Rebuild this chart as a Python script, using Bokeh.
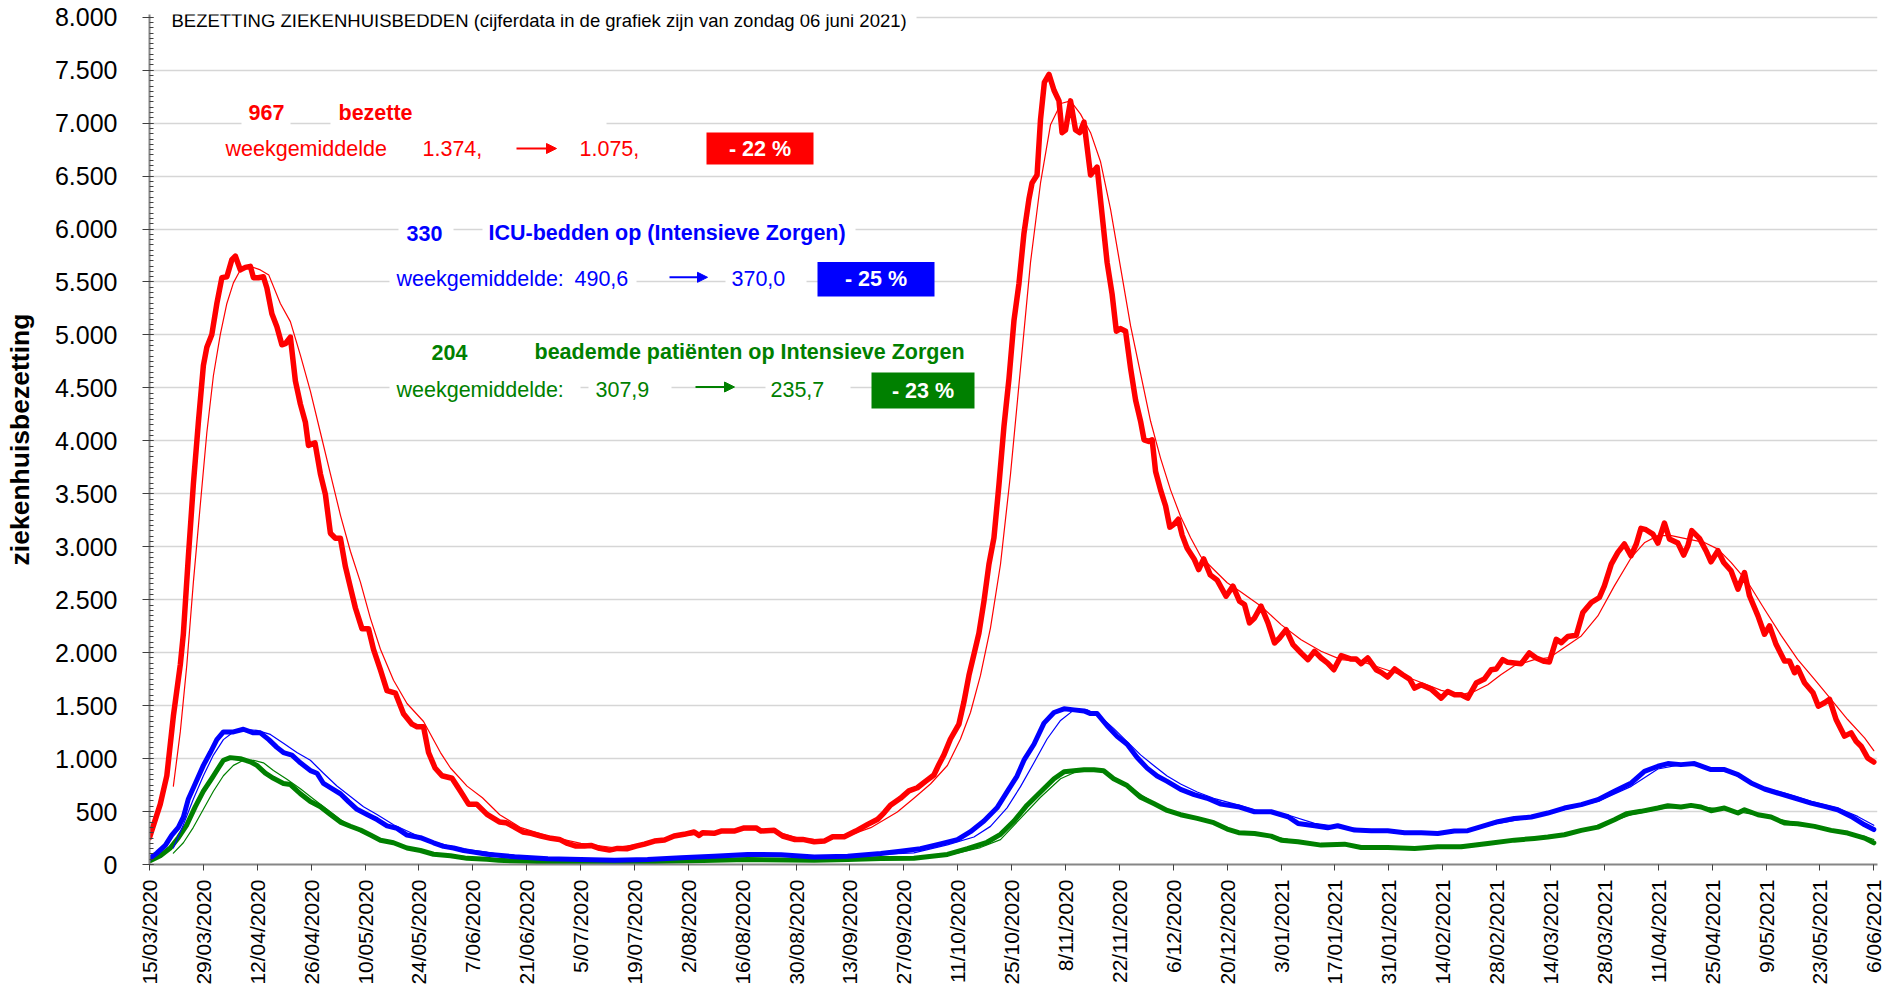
import math
from bokeh.plotting import figure
from bokeh.models import Range1d, FixedTicker, Label, BoxAnnotation, Arrow, NormalHead
from bokeh.embed import file_html
from bokeh.resources import INLINE

# ---------------- data (day 0 = 15/03/2020) ----------------
x_tick_days = list(range(0, 449, 14))
x_tick_labels = ["15/03/2020", "29/03/2020", "12/04/2020", "26/04/2020", "10/05/2020",
                 "24/05/2020", "7/06/2020", "21/06/2020", "5/07/2020", "19/07/2020",
                 "2/08/2020", "16/08/2020", "30/08/2020", "13/09/2020", "27/09/2020",
                 "11/10/2020", "25/10/2020", "8/11/2020", "22/11/2020", "6/12/2020",
                 "20/12/2020", "3/01/2021", "17/01/2021", "31/01/2021", "14/02/2021",
                 "28/02/2021", "14/03/2021", "28/03/2021", "11/04/2021", "25/04/2021",
                 "9/05/2021", "23/05/2021", "6/06/2021"]
y_tick_values = list(range(0, 8001, 500))
y_tick_labels = ["0", "500", "1.000", "1.500", "2.000", "2.500", "3.000", "3.500", "4.000",
                 "4.500", "5.000", "5.500", "6.000", "6.500", "7.000", "7.500", "8.000"]

# bezette ziekenhuisbedden (dagwaarde)
bezet = [(0, 253), (2.8, 570), (4.5, 838), (6.2, 1400), (8.0, 1886), (8.8, 2178), (10.1, 2909),
         (11.4, 3591), (12.7, 4176), (14.0, 4712), (14.9, 4883), (16.2, 5005), (17.5, 5297),
         (18.8, 5541), (20.1, 5550), (21.4, 5711), (22.3, 5745), (23.6, 5614), (24.9, 5638),
         (26.2, 5648), (27.0, 5541), (28.3, 5540), (29.6, 5550), (30.5, 5443), (31.8, 5200),
         (33.1, 5078), (34.4, 4907), (35.3, 4917), (36.6, 4980), (37.9, 4566), (39.2, 4347),
         (40.5, 4176), (41.3, 3957), (43.0, 3981), (44.4, 3689), (45.7, 3494), (47.0, 3128),
         (48.3, 3080), (49.6, 3080), (50.9, 2812), (52.2, 2617), (53.5, 2422), (55.2, 2227),
         (56.9, 2227), (58.2, 2032), (60.0, 1837), (61.7, 1642), (63.9, 1618), (66.0, 1423),
         (68.2, 1325), (69.5, 1301), (71.2, 1301), (72.5, 1057), (74.2, 911), (76.0, 838),
         (78.6, 814), (80.8, 692), (82.9, 570), (85.0, 570), (87.7, 473), (90.9, 402),
         (92.6, 395), (94.8, 354), (97.0, 307), (99.1, 294), (101.7, 269), (104.3, 247),
         (106.5, 237), (108.6, 199), (110.8, 174), (113.0, 174), (114.7, 180), (116.9, 152),
         (119.5, 136), (121.6, 152), (124.2, 149), (126.4, 174), (128.6, 193), (131.2, 221),
         (133.8, 231), (136.3, 269), (138.9, 285), (141.5, 307), (142.8, 275), (143.7, 300),
         (146.7, 294), (148.5, 316), (151.9, 316), (154.5, 345), (157.6, 345), (158.9, 316),
         (162.3, 323), (164.5, 269), (167.5, 237), (169.7, 237), (172.7, 215), (175.3, 221),
         (177.5, 262), (180.5, 262), (181.8, 285), (183.5, 316), (186.6, 379), (189.2, 427),
         (190.9, 490), (192.5, 560), (195.1, 625), (197.3, 695), (199.5, 725), (201.6, 785),
         (203.8, 845), (205.1, 945), (206.4, 1035), (208.1, 1185), (210.3, 1325), (211.6, 1535),
         (212.9, 1785), (214.2, 1985), (215.5, 2185), (216.8, 2485), (218.1, 2835), (219.4, 3085),
         (220.7, 3585), (222.0, 4135), (223.3, 4585), (224.6, 5135), (225.9, 5485), (227.2, 5960),
         (228.5, 6285), (229.3, 6435), (230.6, 6510), (231.5, 7035), (232.5, 7385), (233.7, 7460),
         (235.0, 7310), (236.3, 7210), (237.1, 6910), (238.0, 6935), (239.3, 7210), (240.6, 6935),
         (241.7, 6910), (242.8, 7010), (244.5, 6510), (246.2, 6585), (247.5, 6135), (248.8, 5685),
         (250.1, 5385), (251.2, 5035), (252.3, 5060), (253.6, 5035), (254.9, 4685), (256.2, 4385),
         (257.5, 4185), (258.4, 4010), (259.6, 3995), (260.5, 4010), (261.4, 3710), (262.7, 3535),
         (264.0, 3385), (265.1, 3185), (266.1, 3210), (267.3, 3260), (268.3, 3110), (269.6, 2985),
         (271.4, 2885), (272.6, 2785), (273.9, 2885), (275.6, 2735), (277.4, 2685), (279.7, 2533),
         (281.5, 2628), (283.2, 2486), (284.5, 2455), (285.8, 2281), (287.1, 2328), (288.8, 2439),
         (290.6, 2281), (292.3, 2092), (293.6, 2139), (295.3, 2218), (297.1, 2076), (299.2, 1997),
         (301.0, 1934), (302.7, 2013), (304.4, 1950), (306.1, 1902), (307.7, 1839), (309.6, 1972),
         (312.2, 1940), (313.5, 1940), (314.8, 1896), (316.5, 1950), (318.7, 1839), (320.0, 1814),
         (321.7, 1770), (323.5, 1846), (325.6, 1792), (327.4, 1751), (328.7, 1666), (330.4, 1697),
         (333.0, 1656), (335.6, 1571), (337.3, 1634), (339.1, 1603), (340.8, 1603), (342.5, 1571),
         (344.7, 1713), (346.8, 1751), (348.6, 1839), (349.9, 1846), (351.6, 1934), (352.9, 1909),
         (356.4, 1896), (358.5, 1997), (360.3, 1950), (362.4, 1918), (363.7, 1912), (365.5, 2126),
         (366.8, 2095), (368.5, 2152), (370.7, 2164), (372.4, 2379), (374.6, 2474), (376.7, 2521),
         (378.0, 2631), (379.8, 2836), (381.5, 2947), (383.2, 3026), (384.9, 2915), (386.3, 3026),
         (387.5, 3174), (388.8, 3161), (390.6, 3120), (391.9, 3035), (393.6, 3224), (394.9, 3073),
         (397.1, 3035), (398.6, 2921), (399.7, 3010), (400.7, 3152), (402.7, 3079), (404.4, 2963),
         (405.7, 2858), (407.5, 2963), (409.0, 2852), (410.9, 2773), (412.7, 2600), (414.4, 2757),
         (415.7, 2537), (417.9, 2347), (419.6, 2174), (420.9, 2253), (422.6, 2079), (424.8, 1921),
         (426.1, 1921), (427.4, 1811), (428.2, 1858), (430.0, 1716), (432.2, 1622), (433.6, 1495),
         (435.2, 1527), (436.5, 1559), (438.2, 1369), (440.4, 1212), (442.1, 1243), (443.4, 1164),
         (444.7, 1117), (446.4, 1006), (448.0, 967)]

# weekgemiddelde bezette bedden
bezet_avg = [(6.2, 740), (8.0, 1252), (9.7, 1886), (11.4, 2666), (13.2, 3397), (14.9, 4079),
             (16.6, 4615), (18.4, 5005), (20.1, 5297), (21.8, 5492), (23.6, 5614), (26.2, 5648),
             (28.8, 5614), (31.0, 5565), (34.0, 5297), (36.6, 5126), (39.2, 4810), (41.8, 4469),
             (44.4, 4079), (47.0, 3689), (49.6, 3299), (52.2, 2958), (54.8, 2666), (57.4, 2324),
             (60.0, 2032), (63.4, 1740), (66.9, 1520), (71.2, 1350), (75.6, 1057), (78.2, 911),
             (82.5, 740), (86.5, 630), (91.0, 470), (96.5, 348), (103.5, 269), (112.1, 199),
             (120.8, 158), (129.4, 205), (138.1, 269), (146.7, 300), (155.4, 332), (162.3, 316),
             (168.4, 253), (174.5, 228), (181.4, 269), (187.4, 348), (194.3, 495), (198.6, 625),
             (202.9, 760), (207.3, 935), (210.7, 1185), (213.3, 1435), (215.9, 1785), (218.5, 2235),
             (221.1, 2835), (223.7, 3685), (226.3, 4685), (228.9, 5685), (231.5, 6435), (234.1, 6985),
             (236.8, 7185), (239.3, 7210), (241.9, 7085), (244.5, 6910), (247.1, 6635), (249.7, 6185),
             (252.3, 5635), (254.9, 5085), (257.5, 4635), (260.1, 4185), (262.7, 3835), (265.3, 3535),
             (267.9, 3285), (270.5, 3085), (273.1, 2910), (276.5, 2785), (280.0, 2660), (283.3, 2580),
             (288.8, 2439), (294.0, 2265), (299.2, 2123), (304.4, 2013), (309.6, 1934), (314.8, 1918),
             (320.0, 1855), (325.2, 1792), (330.4, 1719), (335.6, 1644), (340.8, 1603), (344.2, 1634),
             (347.7, 1697), (351.1, 1792), (354.6, 1877), (359.8, 1934), (363.7, 1953), (367.6, 2048),
             (372.0, 2158), (376.3, 2347), (380.6, 2631), (385.0, 2899), (388.5, 3041), (391.9, 3105),
             (395.4, 3105), (399.7, 3073), (404.0, 3041), (407.5, 2978), (410.9, 2852), (415.3, 2663),
             (419.6, 2410), (424.0, 2158), (428.2, 1937), (432.6, 1748), (436.9, 1559), (441.2, 1369),
             (445.6, 1196), (448.0, 1075)]

# ICU-bedden op Intensieve Zorgen (dagwaarde)
icu = [(0, 58), (1.9, 107), (4.1, 180), (5.8, 278), (7.5, 351), (8.8, 448), (10.1, 619),
       (11.9, 765), (14.0, 936), (15.8, 1057), (17.5, 1179), (19.2, 1252), (21.8, 1252),
       (24.4, 1277), (27.0, 1243), (28.8, 1243), (31.0, 1179), (33.1, 1106), (34.8, 1057),
       (37.0, 1033), (39.2, 960), (41.8, 887), (43.5, 862), (45.2, 765), (47.4, 716), (49.6, 668),
       (51.7, 594), (53.9, 521), (56.5, 473), (59.1, 424), (61.7, 365), (64.3, 341), (66.9, 278),
       (70.4, 253), (73.8, 205), (76.4, 171), (79.0, 156), (81.6, 132), (84.2, 117), (87.7, 97),
       (94.8, 73), (103.5, 54), (112.1, 47), (120.8, 41), (129.4, 47), (138.1, 63), (146.7, 79),
       (155.4, 95), (164.1, 92), (172.7, 70), (181.4, 79), (190.0, 104), (195.1, 125), (200.3, 150),
       (205.5, 195), (209.9, 235), (213.3, 310), (216.8, 410), (220.2, 535), (222.8, 685),
       (225.4, 835), (227.2, 985), (229.8, 1135), (232.4, 1335), (235.0, 1435), (237.6, 1470),
       (240.2, 1460), (242.8, 1450), (244.5, 1425), (246.2, 1425), (248.8, 1310), (251.4, 1210),
       (254.0, 1135), (256.6, 1010), (259.2, 910), (261.8, 835), (264.4, 785), (267.9, 710),
       (271.4, 660), (274.8, 625), (278.4, 570), (282.8, 546), (287.1, 498), (291.4, 498),
       (295.8, 451), (298.4, 388), (302.7, 366), (306.1, 347), (308.7, 366), (313.1, 325),
       (317.4, 319), (321.7, 319), (326.1, 300), (330.4, 300), (334.7, 293), (339.0, 316),
       (342.5, 319), (346.0, 357), (350.3, 404), (354.6, 435), (359.0, 448), (363.3, 486),
       (367.6, 533), (372.0, 565), (376.3, 612), (380.6, 691), (385.0, 770), (388.4, 880),
       (391.9, 928), (394.5, 953), (397.9, 943), (401.4, 953), (405.7, 896), (409.2, 896),
       (412.7, 849), (416.1, 770), (419.6, 713), (423.0, 675), (427.4, 628), (431.7, 580),
       (435.2, 549), (438.6, 517), (442.1, 454), (445.6, 375), (448.0, 330)]

icu_avg = [(6.2, 156), (8.8, 375), (11.4, 619), (14.0, 838), (16.6, 1033), (19.2, 1179),
           (21.8, 1252), (24.4, 1277), (27.9, 1267), (31.4, 1228), (34.8, 1145), (38.3, 1057),
           (41.8, 984), (45.2, 862), (48.7, 741), (52.2, 643), (55.6, 546), (59.1, 473),
           (63.4, 375), (67.8, 302), (72.1, 229), (77.3, 180), (82.5, 141), (87.7, 117),
           (90.7, 97), (103.5, 60), (120.8, 45), (138.1, 60), (155.4, 90), (172.7, 75),
           (190.0, 95), (198.6, 110), (207.3, 185), (214.2, 260), (218.5, 360), (222.8, 535),
           (226.3, 735), (229.8, 960), (233.2, 1185), (236.7, 1360), (240.2, 1460), (243.6, 1460),
           (247.1, 1395), (250.5, 1285), (254.0, 1160), (257.5, 1035), (260.9, 935), (264.4, 835),
           (267.9, 760), (272.2, 685), (276.5, 625), (283.0, 560), (287.1, 514), (295.8, 467),
           (302.7, 388), (308.7, 357), (317.4, 325), (326.1, 306), (334.7, 300), (342.5, 319),
           (350.3, 388), (359.0, 445), (367.6, 517), (376.3, 596), (385.0, 738), (391.9, 902),
           (397.9, 943), (404.0, 928), (410.9, 864), (417.9, 738), (424.8, 675), (431.7, 596),
           (438.6, 533), (443.8, 454), (448.0, 370)]

# beademde patienten op Intensieve Zorgen (dagwaarde)
beadem = [(0, 34), (2.8, 83), (5.4, 156), (7.5, 253), (9.7, 375), (11.9, 546), (14.0, 692),
          (16.2, 814), (17.9, 911), (19.2, 984), (21.0, 1009), (23.6, 999), (26.2, 970),
          (27.9, 936), (30.1, 862), (32.2, 814), (34.8, 765), (36.6, 755), (39.2, 668),
          (41.8, 594), (44.4, 546), (47.0, 473), (49.6, 400), (52.2, 361), (54.8, 326),
          (57.4, 278), (60.0, 229), (63.4, 205), (66.9, 156), (70.4, 132), (73.8, 97),
          (78.2, 83), (82.5, 58), (87.7, 49), (90.7, 39), (103.5, 25), (120.8, 22), (138.1, 32),
          (155.4, 47), (172.7, 41), (181.4, 47), (190.0, 57), (198.6, 60), (207.3, 95),
          (212.5, 150), (217.6, 210), (221.1, 285), (224.6, 410), (228.0, 560), (231.5, 685),
          (235.0, 810), (237.6, 875), (240.2, 885), (242.8, 895), (245.4, 895), (247.9, 885),
          (250.5, 810), (254.0, 745), (257.5, 635), (260.9, 575), (264.4, 510), (267.9, 470),
          (272.2, 435), (276.5, 395), (280.0, 335), (283.0, 300), (287.1, 293), (291.4, 268),
          (294.0, 230), (298.4, 215), (304.4, 183), (310.5, 192), (314.8, 161), (321.7, 161),
          (328.7, 151), (334.7, 167), (340.8, 167), (347.7, 199), (354.6, 230), (359.8, 246),
          (363.3, 259), (367.6, 281), (372.0, 322), (376.3, 353), (380.6, 423), (383.7, 480),
          (387.5, 502), (391.9, 533), (394.5, 555), (397.9, 543), (400.5, 558), (403.1, 543),
          (405.7, 508), (409.2, 533), (412.7, 486), (414.4, 517), (417.9, 470), (421.3, 448),
          (424.8, 391), (428.2, 385), (432.6, 360), (436.9, 322), (441.2, 297), (445.6, 249),
          (448.0, 204)]

beadem_avg = [(6.2, 107), (8.8, 205), (11.4, 351), (14.0, 521), (16.6, 692), (19.2, 838),
              (21.8, 936), (24.4, 984), (27.0, 984), (29.6, 960), (32.2, 887), (35.7, 804),
              (39.2, 716), (42.6, 619), (46.1, 521), (49.6, 424), (53.9, 326), (58.2, 253),
              (63.4, 205), (68.6, 146), (73.8, 107), (79.9, 83), (85.9, 58), (90.7, 44),
              (103.5, 28), (120.8, 24), (138.1, 32), (155.4, 45), (172.7, 43), (190.0, 52),
              (198.6, 60), (207.3, 85), (215.9, 160), (221.1, 235), (226.3, 435), (231.5, 635),
              (236.7, 810), (241.9, 895), (247.1, 885), (252.3, 785), (257.5, 660), (262.7, 545),
              (267.9, 475), (273.1, 425), (278.3, 360), (283.0, 310), (287.1, 300), (295.8, 237),
              (304.4, 192), (313.1, 174), (321.7, 161), (330.4, 161), (339.0, 174), (347.7, 205),
              (356.4, 237), (363.7, 262), (367.6, 271), (376.3, 360), (385.0, 470), (393.6, 533),
              (402.3, 549), (410.9, 511), (419.6, 454), (428.2, 391), (436.9, 328), (445.6, 265),
              (448.0, 236)]

title_text = "BEZETTING ZIEKENHUISBEDDEN (cijferdata in de grafiek zijn van zondag 06 juni 2021)"

# ---------------- layout ----------------
RED, BLUE, GREEN = "#ff0000", "#0000ff", "#008000"
FONT = "Liberation Sans"
FIG_W, FIG_H = 1900, 988
LEFT, RIGHT, TOP, BOTTOM = 149, 23, 14, 124
FRAME_W = FIG_W - LEFT - RIGHT
FRAME_H = FIG_H - TOP - BOTTOM
PX_PER_DAY = 3.8489
PX_PER_UNIT = 0.10591
XMAX = FRAME_W / PX_PER_DAY
YMAX = FRAME_H / PX_PER_UNIT
FRAME_BOTTOM = TOP + FRAME_H


def ax(ix):   # page pixel -> day
    return (ix - LEFT) / PX_PER_DAY


def ay(iy):   # page pixel -> value
    return (FRAME_BOTTOM - iy) / PX_PER_UNIT


p = figure(width=FIG_W, height=FIG_H, x_range=Range1d(0, XMAX), y_range=Range1d(0, YMAX),
           output_backend="svg", toolbar_location=None,
           min_border_left=LEFT, min_border_right=RIGHT, min_border_top=TOP,
           min_border_bottom=BOTTOM)
p.outline_line_color = None
p.background_fill_color = "white"
p.border_fill_color = "white"

p.xgrid.visible = False
p.ygrid.ticker = FixedTicker(ticks=y_tick_values)
p.ygrid.grid_line_color = "#d6d6d6"
p.ygrid.grid_line_width = 1.5

# y axis
p.yaxis.ticker = FixedTicker(ticks=y_tick_values, minor_ticks=list(range(0, 8001, 50)))
p.yaxis.major_label_overrides = {v: s for v, s in zip(y_tick_values, y_tick_labels)}
p.yaxis.axis_line_color = "#868686"
p.yaxis.axis_line_width = 2
p.yaxis.major_tick_line_color = "#404040"
p.yaxis.major_tick_in = 4
p.yaxis.major_tick_out = 7
p.yaxis.minor_tick_line_color = "#404040"
p.yaxis.minor_tick_in = 4
p.yaxis.minor_tick_out = 0
p.yaxis.major_label_text_font = FONT
p.yaxis.major_label_text_font_size = "25px"
p.yaxis.major_label_text_color = "black"
p.yaxis.major_label_standoff = 25
p.yaxis.axis_label = "ziekenhuisbezetting"
p.yaxis.axis_label_text_font = FONT
p.yaxis.axis_label_text_font_style = "bold"
p.yaxis.axis_label_text_font_size = "26.5px"
p.yaxis.axis_label_text_color = "black"
p.yaxis.axis_label_standoff = 17

# x axis
p.xaxis.ticker = FixedTicker(ticks=x_tick_days)
p.xaxis.major_label_overrides = {d: s for d, s in zip(x_tick_days, x_tick_labels)}
p.xaxis.major_label_orientation = math.pi / 2
p.xaxis.axis_line_color = "#868686"
p.xaxis.axis_line_width = 2
p.xaxis.major_tick_line_color = "#404040"
p.xaxis.major_tick_in = 0
p.xaxis.major_tick_out = 6
p.xaxis.minor_tick_line_color = None
p.xaxis.major_label_text_font = FONT
p.xaxis.major_label_text_font_size = "21px"
p.xaxis.major_label_text_color = "black"
p.xaxis.major_label_standoff = 9

# white text frames hiding gridlines (as in the original text boxes)
frames = [(151, 916, 17.0), (241, 290, 122.9), (330, 606, 122.9), (398, 453, 228.8),
          (482, 855, 228.8), (389, 636, 281.8), (725, 806, 281.8), (389, 580, 387.7),
          (588, 671, 387.7), (765, 850, 387.7)]
for l, r, yy in frames:
    p.add_layout(BoxAnnotation(left=ax(l), right=ax(r), top=ay(yy - 3), bottom=ay(yy + 3),
                               fill_color="white", fill_alpha=1.0, line_color=None,
                               level="underlay"))


def pts(series):
    return [d for d, _ in series], [v for _, v in series]


# lines
for series, col, w in [(beadem, GREEN, 5.0), (beadem_avg, GREEN, 1.2),
                       (icu, BLUE, 5.0), (icu_avg, BLUE, 1.2),
                       (bezet, RED, 5.5), (bezet_avg, RED, 1.2)]:
    xs, ys = pts(series)
    p.line(xs, ys, line_color=col, line_width=w, line_join="round", line_cap="round")


def label(ix, iy, text, color, size="21.5px", bold=False, align="left"):
    # iy = vertical centre of the text (cap height)
    p.add_layout(Label(x=ax(ix), y=ay(iy), text=text, text_color=color,
                       text_font=FONT, text_font_size=size,
                       text_font_style="bold" if bold else "normal",
                       text_align=align, text_baseline="middle"))


def arrow(x0, x1, iy, color):
    p.add_layout(Arrow(end=NormalHead(size=10, fill_color=color, line_color=color),
                       x_start=ax(x0), y_start=ay(iy), x_end=ax(x1), y_end=ay(iy),
                       line_color=color, line_width=2))


def badge(l, r, t, b, text, color):
    p.add_layout(BoxAnnotation(left=ax(l), right=ax(r), top=ay(t), bottom=ay(b),
                               fill_color=color, fill_alpha=1.0, line_color=None))
    label((l + r) / 2, (t + b) / 2, text, "white", bold=True, align="center")


# title
label(171, 20, title_text, "black", size="18.5px")

# bezette bedden
label(248, 112.2, "967", RED, bold=True)
label(338, 112.2, "bezette", RED, bold=True)
label(225, 148, "weekgemiddelde", RED)
label(422, 148, "1.374,", RED)
arrow(516, 556, 148, RED)
label(579, 148, "1.075,", RED)
badge(706, 813, 132, 164, "- 22 %", RED)

# ICU
label(406, 232.8, "330", BLUE, bold=True)
label(488, 232.8, "ICU-bedden op (Intensieve Zorgen)", BLUE, bold=True)
label(396, 278.3, "weekgemiddelde:", BLUE)
label(574, 278.3, "490,6", BLUE)
arrow(669, 707, 276.8, BLUE)
label(731, 278.3, "370,0", BLUE)
badge(817, 934, 261.5, 296.1, "- 25 %", BLUE)

# beademd
label(431, 351.5, "204", GREEN, bold=True)
label(534, 351.5, "beademde patiënten op Intensieve Zorgen", GREEN, bold=True)
label(396, 389, "weekgemiddelde:", GREEN)
label(595, 389, "307,9", GREEN)
arrow(695, 734, 386.5, GREEN)
label(770, 389, "235,7", GREEN)
badge(871, 974, 372.1, 408.1, "- 23 %", GREEN)

open("out.html", "w").write(file_html(p, INLINE))
